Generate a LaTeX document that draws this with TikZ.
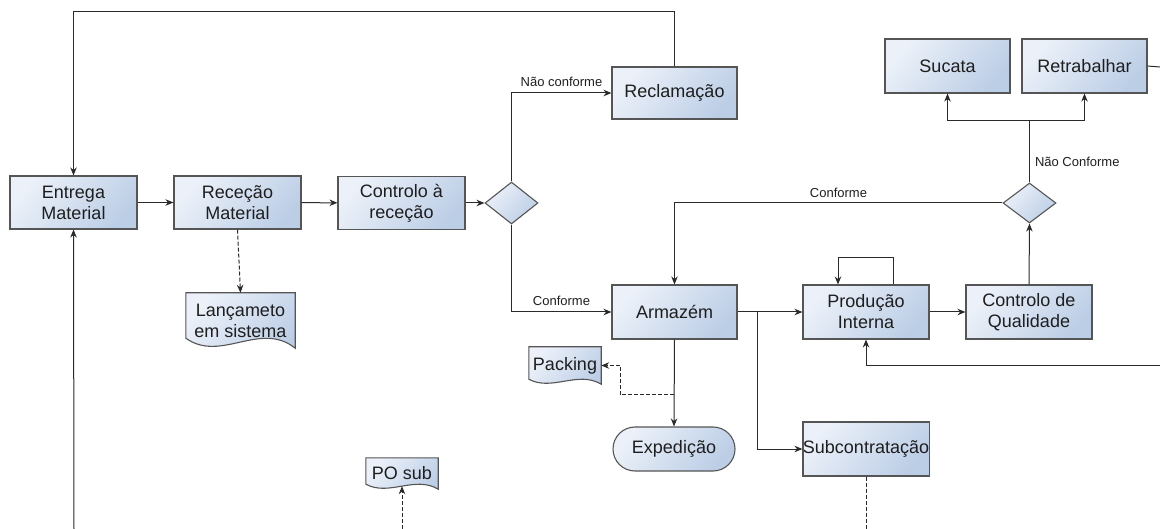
\documentclass[tikz,border=0pt]{standalone}
\usepackage{fontspec}
\setmainfont{Liberation Sans}
\usetikzlibrary{arrows.meta,shapes.geometric,backgrounds,calc}
\definecolor{bxlight}{HTML}{ECF1F9}
\definecolor{bxdark}{HTML}{BCCEE6}
\definecolor{bxline}{HTML}{555555}
\definecolor{txt}{HTML}{1E1E1E}
\definecolor{cline}{HTML}{2A2A2A}
% #1 node name, #2 scale of the wave
\newcommand\docshape[2]{%
  \path[docfill]
    ($(#1.south west)+(0,-10*#2)$) -- (#1.north west) -- (#1.north east) -- (#1.south east)
    .. controls ($(#1.south west)!0.68!(#1.south east)+(0,-28*#2)$) and ($(#1.south west)!0.32!(#1.south east)+(0,15*#2)$) .. ($(#1.south west)+(0,-10*#2)$) -- cycle;}
\begin{document}
\begin{tikzpicture}[x=1pt,y=-1pt,
  proc/.style={rectangle, draw=bxline, line width=1.1pt, top color=bxlight, bottom color=bxdark, shading angle=50, text=txt, align=center, font=\fontsize{18}{21}\selectfont, inner sep=0pt},
  dec/.style={diamond, draw=bxline, line width=1.1pt, top color=bxlight, bottom color=bxdark, shading angle=50, inner sep=0pt},
  docnode/.style={rectangle, draw=none, text=txt, align=center, font=\fontsize{18}{21}\selectfont, inner sep=0pt},
  docfill/.style={draw=bxline, line width=1.1pt, top color=bxlight, bottom color=bxdark, shading angle=50},
  arr/.style={draw=cline, line width=1pt, -{Stealth[length=8pt,width=6.5pt]}},
  ln/.style={draw=cline, line width=1pt},
  dsh/.style={dash pattern=on 4pt off 2pt},
  lbl/.style={font=\fontsize{13}{15}\selectfont, text=txt, inner sep=0pt}]
\useasboundingbox (0,0) rectangle (1160,529);

% process boxes
\node[proc, minimum width=127, minimum height=53] (ent) at (73.5,202.5) {Entrega\\Material};
\node[proc, minimum width=127, minimum height=53] (rec) at (237.5,202.5) {Receção\\Material};
\node[proc, minimum width=127, minimum height=53] (ctl) at (401.5,203) {Controlo à\\receção};
\node[dec, minimum width=53, minimum height=42] (d1) at (511.5,203) {};
\node[proc, minimum width=125, minimum height=52] (recl) at (674.5,93) {Reclamação};
\node[proc, minimum width=125, minimum height=54] (arm) at (674.5,312) {Armazém};
\node[proc, minimum width=126, minimum height=54] (prod) at (866,312) {Produção\\Interna};
\node[proc, minimum width=126, minimum height=54] (cq) at (1029,312) {Controlo de\\Qualidade};
\node[dec, minimum width=53, minimum height=40] (d2) at (1029.5,203) {};
\node[proc, minimum width=125, minimum height=54] (suc) at (947.5,66) {Sucata};
\node[proc, minimum width=125, minimum height=54] (ret) at (1084.5,66) {Retrabalhar};
\node[proc, minimum width=126, minimum height=54] (sub) at (866,449) {Subcontratação};
\node[proc, rounded corners=22pt, minimum width=122, minimum height=44] (exp) at (674,449) {Expedição};

% documents
\node[docnode, minimum width=109, minimum height=55] (lanc) at (240.5,320.5) {Lançameto\\em sistema};
\node[docnode, minimum width=72, minimum height=37] (pack) at (565,365.5) {Packing};
\node[docnode, minimum width=72, minimum height=31] (posub) at (402,473.5) {PO sub};
\begin{scope}[on background layer]
  \docshape{lanc}{1}
  \docshape{pack}{0.5}
  \docshape{posub}{0.5}
\end{scope}

% free ends
\coordinate (bent) at (74,529);
\coordinate (bsub) at (866,529);
\coordinate (bpo) at (402,529);
\coordinate (rret) at (1160,67);
\coordinate (rprod) at (1160,366);
\coordinate (br) at (757,312);
\coordinate (j) at (1029.5,121);
\coordinate (dk) at (674,395);

% connectors
\draw[arr] (ent) -- (rec);
\draw[arr] (rec) -- (ctl);
\draw[arr] (ctl) -- (d1.west);
\draw[arr] (d1.north) |- node[lbl, pos=0.75, above=6pt] {Não conforme} (recl.west);
\draw[arr] (d1.south) |- node[lbl, pos=0.75, above=6pt] {Conforme} (arm.west);
\draw[arr] (recl.north) -- (recl.north |- 0,12) -| (ent.north);
\draw[arr] (bent) -- (ent.south);
\draw[arr, dsh] (rec.south) -- (lanc.north);
\draw[arr] (arm.east) -- (prod.west);
\draw[arr] (br) |- (sub.west);
\draw[arr] (prod.east) -- (cq.west);
\draw[arr] (cq.north) -- (d2.south);
\draw[ln] (d2.north) -- node[lbl, pos=0.33, right=5pt] {Não Conforme} (j);
\draw[arr] (j) -| (suc.south);
\draw[arr] (j) -| (ret.south);
\draw[arr] (d2.west) -| node[lbl, pos=0.25, above=5pt] {Conforme} (arm.north);
\draw[arr] ([xshift=27]prod.north) -- ++(0,-27) -| ([xshift=-28]prod.north);
\draw[ln] (ret.east) -- (rret);
\draw[arr] (rprod) -| (prod.south);
\draw[arr] (arm.south) -- (exp.north);
\draw[arr, dsh] (dk) -| ([xshift=19]pack.east) -- (pack.east);
\draw[ln, dsh] (sub.south) -- (bsub);
\draw[arr, dsh] (bpo) -- ([yshift=3]posub.south);
\end{tikzpicture}
\end{document}
